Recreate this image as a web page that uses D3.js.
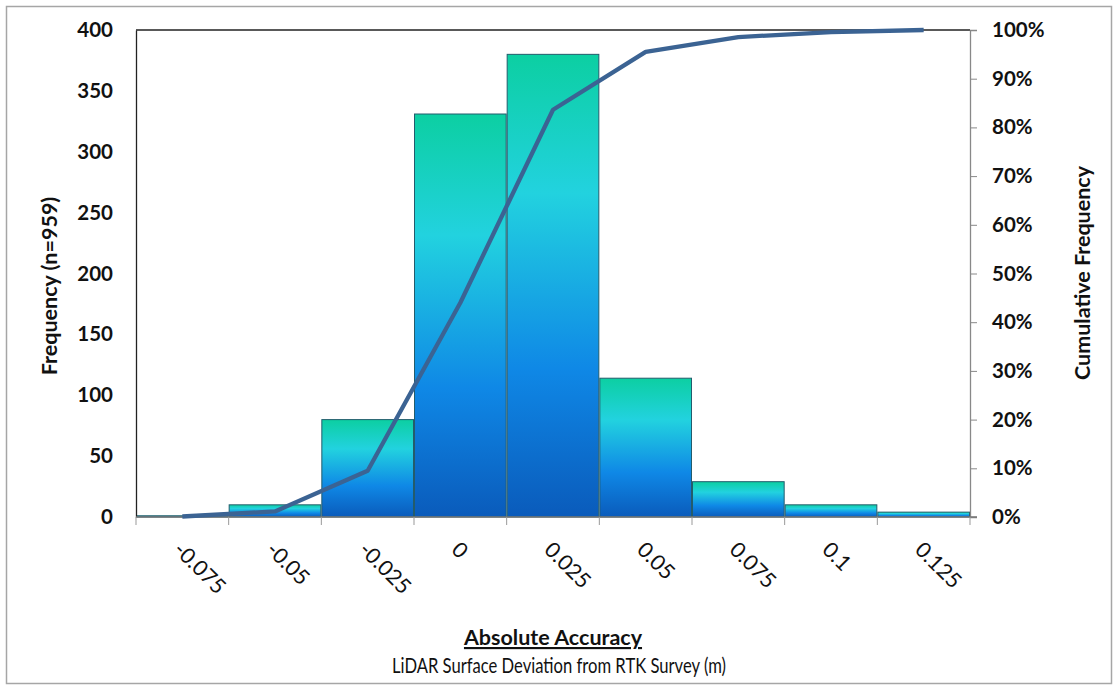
<!DOCTYPE html>
<html><head><meta charset="utf-8">
<script src="https://cdn.jsdelivr.net/npm/d3@7"></script>
<style>body{margin:0;background:#fff;} svg{display:block;}</style>
</head><body>
<svg id="c" width="1118" height="689"></svg>
<script>
const bins = ["-0.075","-0.05","-0.025","0","0.025","0.05","0.075","0.1","0.125"];
const counts = [1,10,80,331,380,114,29,10,4];
const leftTicks = [0,50,100,150,200,250,300,350,400];
const rightTicks = [0,0.1,0.2,0.3,0.4,0.5,0.6,0.7,0.8,0.9,1.0];

const total = d3.sum(counts);
let run = 0;
const cumulative = counts.map(c => (run += c) / total);

const svg = d3.select("#c");
const L = 136, R = 970, T = 30, B = 517;
const font = "Lato, 'Open Sans', sans-serif";

svg.append("rect").attr("x",6.5).attr("y",6.5).attr("width",1105).attr("height",677)
  .attr("fill","#fff").attr("stroke","#a6a6a6").attr("stroke-width",1.5);

const x = d3.scaleBand().domain(bins).range([L,R]).padding(0);
const y = d3.scaleLinear().domain([0,400]).range([B,T]);
const y2 = d3.scaleLinear().domain([0,1]).range([B,T]);

const defs = svg.append("defs");
const g = defs.append("linearGradient").attr("id","barGrad").attr("x1",0).attr("y1",0).attr("x2",0).attr("y2",1);
g.append("stop").attr("offset","0%").attr("stop-color","#0ccfa2");
g.append("stop").attr("offset","30%").attr("stop-color","#22d2df");
g.append("stop").attr("offset","68%").attr("stop-color","#0f88e6");
g.append("stop").attr("offset","100%").attr("stop-color","#0a5bbb");

// bars
svg.append("g").selectAll("rect").data(counts).join("rect")
  .attr("x",(d,i)=>x(bins[i])+0.5)
  .attr("y",d=>y(d))
  .attr("width",x.bandwidth()-1)
  .attr("height",d=>B-y(d))
  .attr("fill","url(#barGrad)")
  .attr("stroke","#235c6c").attr("stroke-width",1);

// plot frame: top
svg.append("line").attr("x1",L).attr("x2",R).attr("y1",T).attr("y2",T).attr("stroke","#222").attr("stroke-width",1.3);

// left axis
const ax = d3.axisLeft(y).tickValues(leftTicks).tickSize(0).tickPadding(23);
const gl = svg.append("g").attr("transform",`translate(${L},0)`).call(ax);
gl.select(".domain").attr("stroke","#222").attr("stroke-width",1.3);
gl.selectAll("text").attr("font-family",font).attr("font-size",20.5).attr("font-weight","bold").attr("fill","#111");

// right axis
const ar = d3.axisRight(y2).tickValues(rightTicks).tickFormat(d3.format(".0%")).tickSize(7).tickPadding(15);
const gr = svg.append("g").attr("transform",`translate(${R},0)`).call(ar);
gr.select(".domain").attr("stroke","#888").attr("stroke-width",1.3);
gr.selectAll("line").attr("stroke","#888");
gr.selectAll("text").attr("font-family",font).attr("font-size",20.5).attr("font-weight","bold").attr("fill","#111");

// bottom axis
const gb = svg.append("g").attr("transform",`translate(0,${B})`);
gb.append("line").attr("x1",L).attr("x2",R+7).attr("y1",0).attr("y2",0).attr("stroke","#777").attr("stroke-width",1.3);
const edges = bins.map(b=>x(b)).concat([R]);
gb.selectAll("line.tk").data(edges).join("line").attr("class","tk")
  .attr("x1",d=>d).attr("x2",d=>d).attr("y1",0).attr("y2",8).attr("stroke","#999");
gb.selectAll("text").data(bins).join("text")
  .attr("transform",d=>`translate(${x(d)+x.bandwidth()/2-10},${34}) rotate(45)`)
  .attr("text-anchor","start")
  .attr("font-family",font).attr("font-size",21.5).attr("fill","#111")
  .text(d=>d);

// cumulative line
const line = d3.line().x((d,i)=>x(bins[i])+x.bandwidth()/2).y(d=>y2(d));
svg.append("path").datum(cumulative).attr("d",line)
  .attr("fill","none").attr("stroke","#3b6393").attr("stroke-width",4.3).attr("stroke-linejoin","round");

// axis titles
svg.append("text").attr("transform","translate(57,286) rotate(-90)").attr("text-anchor","middle")
  .attr("font-family",font).attr("font-size",21.5).attr("font-weight","bold").attr("fill","#111")
  .text("Frequency (n=959)");
svg.append("text").attr("transform","translate(1090,273) rotate(-90)").attr("text-anchor","middle")
  .attr("font-family",font).attr("font-size",21.5).attr("font-weight","bold").attr("fill","#111")
  .text("Cumulative Frequency");
svg.append("text").attr("x",553).attr("y",645).attr("text-anchor","middle")
  .attr("font-family",font).attr("font-size",21.5).attr("font-weight","bold").attr("fill","#111")
  .attr("text-decoration","underline").text("Absolute Accuracy");
svg.append("text").attr("x",559).attr("y",673).attr("text-anchor","middle")
  .attr("font-family",font).attr("font-size",20.5).attr("font-weight","normal").attr("fill","#111")
  .attr("textLength",334).attr("lengthAdjust","spacingAndGlyphs")
  .text("LiDAR Surface Deviation from RTK Survey (m)");
</script>
</body></html>
